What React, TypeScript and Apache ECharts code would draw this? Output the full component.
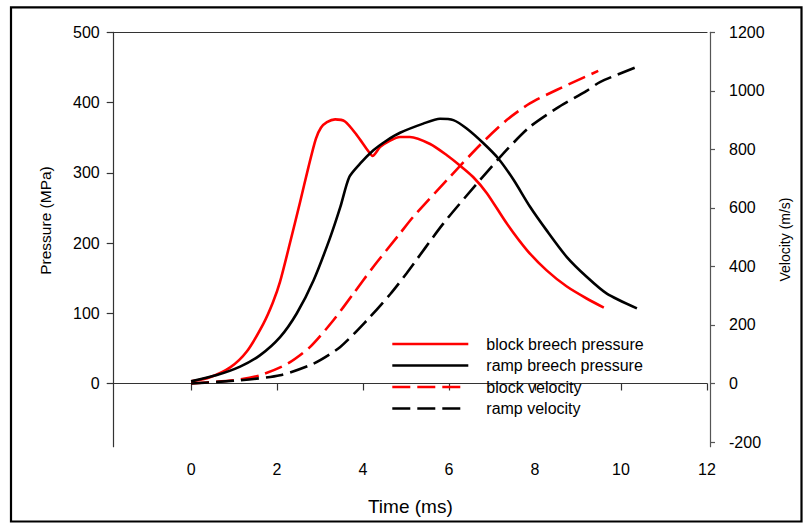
import React, { useEffect, useRef } from "react";
import * as echarts from "echarts";

const xTicks = [0, 2, 4, 6, 8, 10, 12];
const pressureTicks = [0, 100, 200, 300, 400, 500];
const velocityTicks = [-200, 0, 200, 400, 600, 800, 1000, 1200];

const seriesNames = [
  "block breech pressure",
  "ramp breech pressure",
  "block velocity",
  "ramp velocity",
];

const blockPressureT = [0, 0.44, 0.91, 1.3, 1.68, 1.9, 2.07, 2.3, 2.53, 2.73, 2.9, 3.02, 3.16, 3.35, 3.58, 3.85, 4.12, 4.22, 4.4, 4.63, 4.86, 5.09, 5.56, 5.95, 6.26, 6.56, 6.88, 7.34, 7.81, 8.27, 8.74, 9.2, 9.6];
const blockPressure = [3, 9, 23, 46, 85, 115, 145, 200, 257, 308, 348, 364, 372, 376, 373, 354, 331, 324, 337, 346, 351, 351, 341, 325, 310, 294, 271, 228, 190, 161, 138, 121, 108];

const rampPressureT = [0, 0.6, 1.14, 1.6, 2.07, 2.46, 2.85, 3.23, 3.47, 3.68, 3.93, 4.24, 4.55, 4.86, 5.4, 5.79, 6.1, 6.41, 6.8, 7.15, 7.5, 7.88, 8.27, 8.74, 9.2, 9.67, 10.37];
const rampPressure = [3, 12, 24, 40, 66, 100, 147, 207, 251, 294, 313, 332, 346, 357, 370, 377, 375, 363, 342, 320, 290, 252, 218, 180, 152, 128, 107];

const blockVelocityT = [0, 0.98, 1.6, 2.25, 2.77, 3.31, 3.78, 4.24, 4.86, 5.17, 6.02, 6.72, 7.34, 7.88, 8.5, 9.47];
const blockVelocity = [0, 11, 28, 68, 125, 216, 308, 399, 513, 570, 706, 815, 900, 957, 1003, 1068];

const rampVelocityT = [0, 1.14, 2.07, 2.85, 3.47, 4.09, 4.63, 5.01, 5.87, 6.72, 7.34, 7.88, 8.5, 9.2, 9.51, 10.37];
const rampVelocity = [0, 11, 28, 68, 125, 216, 305, 376, 547, 695, 798, 877, 940, 1000, 1030, 1082];

const zip = (xs: number[], ys: number[]) => xs.map((x, i) => [x, ys[i]]);

export default function App() {
  const ref = useRef<HTMLDivElement>(null);
  useEffect(() => {
    if (!ref.current) return;
    const chart = echarts.init(ref.current, null, { renderer: "svg" });
    const font = "Liberation Sans, Arial, sans-serif";
    const axisColor = "#333";
    const colors = ["#ff0000", "#000000", "#ff0000", "#000000"];
    const dashed = [false, false, true, true];
    chart.setOption({
      animation: false,
      backgroundColor: "#fff",
      textStyle: { fontFamily: font },
      grid: {
        left: 113.7,
        top: 32.3,
        right: 97,
        bottom: 76.3,
        containLabel: false,
        outerBoundsMode: "none",
      },
      legend: {
        show: true,
        orient: "vertical",
        left: 386,
        top: 331,
        itemWidth: 76,
        itemHeight: 14,
        itemGap: 5.5,
        data: seriesNames.map((n, i) => ({
          name: n,
          itemStyle: { color: "rgba(0,0,0,0)", borderWidth: 0, opacity: 0 },
          lineStyle: {
            color: colors[i],
            width: 2.6,
            type: dashed[i] ? [18, 7, 18, 7, 18, 24] : "solid",
          },
        })),
        textStyle: {
          fontSize: 16,
          color: "#000",
          fontFamily: font,
          lineHeight: 16,
          padding: [0, 0, 0, 13],
        },
      },
      xAxis: [
        {
          type: "value",
          position: "bottom",
          min: -1.8,
          max: 12,
          name: "Time (ms)",
          nameLocation: "middle",
          nameGap: 50,
          nameTextStyle: { fontSize: 19, color: "#000", fontFamily: font },
          axisLine: { show: true, lineStyle: { color: axisColor, width: 1.2 } },
          axisTick: { show: true, inside: false, length: 7, customValues: xTicks, lineStyle: { color: axisColor, width: 1.2 } },
          axisLabel: { show: true, customValues: xTicks, fontSize: 16, color: "#000", margin: 15, fontFamily: font },
          splitLine: { show: false },
        },
        {
          type: "value",
          position: "top",
          min: -1.8,
          max: 12,
          axisLine: { show: true, onZero: false, lineStyle: { color: axisColor, width: 1.2 } },
          axisTick: { show: false },
          axisLabel: { show: false },
          splitLine: { show: false },
        },
      ],
      yAxis: [
        {
          type: "value",
          position: "left",
          min: -90,
          max: 500,
          name: "Pressure (MPa)",
          nameLocation: "middle",
          nameRotate: 90,
          nameGap: 60,
          nameTextStyle: { fontSize: 15.5, color: "#000", fontFamily: font, padding: [0, 0, 0, 38] },
          axisLine: { show: true, onZero: false, lineStyle: { color: axisColor, width: 1.2 } },
          axisTick: { show: true, inside: false, length: 7, customValues: pressureTicks, lineStyle: { color: axisColor, width: 1.2 } },
          axisLabel: { show: true, customValues: pressureTicks, fontSize: 16, color: "#000", margin: 14, fontFamily: font },
          splitLine: { show: false },
        },
        {
          type: "value",
          position: "right",
          offset: 3,
          min: -216,
          max: 1200,
          name: "Velocity (m/s)",
          nameLocation: "middle",
          nameRotate: 90,
          nameGap: 68,
          nameTextStyle: { fontSize: 14, color: "#000", fontFamily: font },
          axisLine: { show: true, onZero: false, lineStyle: { color: "#555", width: 1.2 } },
          axisTick: { show: true, inside: false, length: 5, customValues: velocityTicks, lineStyle: { color: "#555", width: 1.2 } },
          axisLabel: {
            show: true,
            customValues: velocityTicks,
            fontSize: 16,
            color: "#000",
            margin: 19,
            fontFamily: font,
            formatter: (v: number) => String(v),
          },
          splitLine: { show: false },
        },
      ],
      series: [
        {
          name: seriesNames[0],
          type: "line",
          yAxisIndex: 0,
          data: zip(blockPressureT, blockPressure),
          symbol: "none",
          smooth: 0.25,
          color: colors[0],
          lineStyle: { color: colors[0], width: 2.6 },
        },
        {
          name: seriesNames[1],
          type: "line",
          yAxisIndex: 0,
          data: zip(rampPressureT, rampPressure),
          symbol: "none",
          smooth: 0.25,
          color: colors[1],
          lineStyle: { color: colors[1], width: 2.6 },
        },
        {
          name: seriesNames[2],
          type: "line",
          yAxisIndex: 1,
          data: zip(blockVelocityT, blockVelocity),
          symbol: "none",
          smooth: 0.25,
          color: colors[2],
          lineStyle: { color: colors[2], width: 2.6, type: [18, 7] },
        },
        {
          name: seriesNames[3],
          type: "line",
          yAxisIndex: 1,
          data: zip(rampVelocityT, rampVelocity),
          symbol: "none",
          smooth: 0.25,
          color: colors[3],
          lineStyle: { color: colors[3], width: 2.6, type: [18, 7] },
        },
      ],
      graphic: [
        {
          type: "rect",
          silent: true,
          shape: { x: 11, y: 7.3, width: 790.5, height: 514.2 },
          style: { fill: "none", stroke: "#000", lineWidth: 2.2 },
        },
      ],
    });
    return () => chart.dispose();
  }, []);
  return (
    <div
      ref={ref}
      style={{ position: "absolute", left: 0, top: 0, width: 804, height: 523 }}
    />
  );
}
